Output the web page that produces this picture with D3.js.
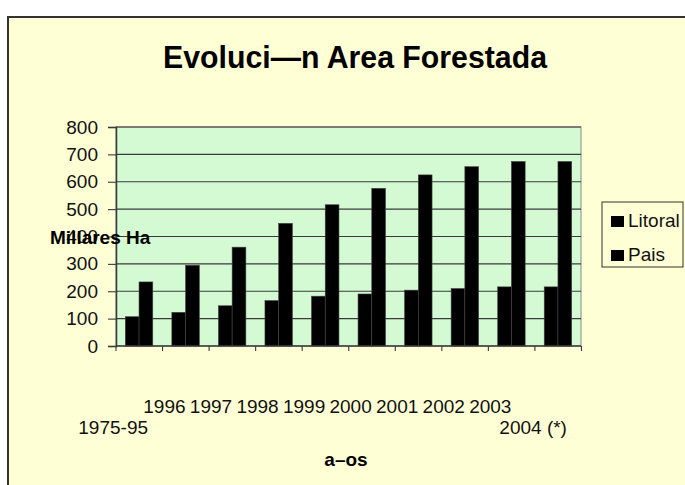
<!DOCTYPE html>
<html>
<head>
<meta charset="utf-8">
<script src="https://cdn.jsdelivr.net/npm/d3@7"></script>
<style>
  body { margin: 0; background: #fff; }
  svg { display: block; font-family: "Liberation Sans", Arial, sans-serif; }
</style>
</head>
<body>
<svg width="685" height="485"></svg>
<script>
// chart values
var categories = ["1975-95", "1996", "1997", "1998", "1999", "2000", "2001", "2002", "2003", "2004 (*)"];
var litoral = [107, 123, 147, 166, 182, 190, 204, 210, 216, 216];
var pais = [234, 295, 361, 448, 516, 576, 625, 655, 674, 674];
var seriesNames = ["Litoral", "Pais"];
var yTicks = [0, 100, 200, 300, 400, 500, 600, 700, 800];

var svg = d3.select("svg"),
    plot = {left: 116, right: 581, top: 127, bottom: 346},
    fontSize = 19;

// outer chart area with its frame
svg.append("rect")
    .attr("x", 8).attr("y", 17)
    .attr("width", 700).attr("height", 500)
    .attr("fill", "#FFFFD5")
    .attr("stroke", "#333")
    .attr("stroke-width", 2);

svg.append("text")
    .attr("x", 355).attr("y", 68)
    .attr("text-anchor", "middle")
    .attr("font-size", 32)
    .attr("font-weight", "bold")
    .attr("textLength", 384)
    .attr("lengthAdjust", "spacingAndGlyphs")
    .text("Evoluci\u2014n Area Forestada");

var x0 = d3.scaleBand()
    .domain(categories)
    .range([plot.left, plot.right])
    .paddingInner(0.41)
    .paddingOuter(0.2);

var x1 = d3.scaleBand()
    .domain(seriesNames)
    .range([0, x0.bandwidth()]);

var y = d3.scaleLinear()
    .domain([0, 800])
    .range([plot.bottom, plot.top]);

var step = x0.step();

// plot background
svg.append("rect")
    .attr("x", plot.left).attr("y", plot.top)
    .attr("width", plot.right - plot.left)
    .attr("height", plot.bottom - plot.top)
    .attr("fill", "#D4FAD4")
    .attr("stroke", "#999")
    .attr("stroke-width", 1.2);

// gridlines
svg.append("g")
    .selectAll("line")
    .data(yTicks.slice(1))
    .enter().append("line")
        .attr("x1", plot.left).attr("x2", plot.right)
        .attr("y1", function(d) { return y(d); })
        .attr("y2", function(d) { return y(d); })
        .attr("stroke", "#3a3a3a")
        .attr("stroke-width", 1.1);

// bars
var rows = categories.map(function(c, i) {
  return {cat: c, values: [{key: "Litoral", v: litoral[i]}, {key: "Pais", v: pais[i]}]};
});

svg.append("g")
    .selectAll("g")
    .data(rows)
    .enter().append("g")
        .attr("transform", function(d) { return "translate(" + x0(d.cat) + ",0)"; })
    .selectAll("rect")
    .data(function(d) { return d.values; })
    .enter().append("rect")
        .attr("x", function(d) { return x1(d.key); })
        .attr("y", function(d) { return y(d.v); })
        .attr("width", x1.bandwidth())
        .attr("height", function(d) { return y(0) - y(d.v); })
        .attr("fill", "#000")
        .attr("stroke", "#444")
        .attr("stroke-width", 0.6);

// y axis
var yAxis = svg.append("g")
    .attr("transform", "translate(" + plot.left + ",0)")
    .call(d3.axisLeft(y).tickValues(yTicks).tickSize(8).tickPadding(10));
yAxis.select(".domain").attr("stroke", "#3a3a3a").attr("stroke-width", 1.5);
yAxis.selectAll(".tick line").attr("stroke", "#3a3a3a").attr("stroke-width", 1.1);
yAxis.selectAll(".tick text")
    .attr("font-family", "\"Liberation Sans\", Arial, sans-serif")
    .attr("font-size", fontSize)
    .attr("fill", "#111");

// x axis line and category boundary ticks
svg.append("line")
    .attr("x1", plot.left).attr("x2", plot.right)
    .attr("y1", y(0)).attr("y2", y(0))
    .attr("stroke", "#3a3a3a")
    .attr("stroke-width", 1.3);

svg.append("g")
    .selectAll("line")
    .data(categories.concat([null]))
    .enter().append("line")
        .attr("x1", function(d, i) { return plot.left + i * step; })
        .attr("x2", function(d, i) { return plot.left + i * step; })
        .attr("y1", y(0)).attr("y2", y(0) + 5)
        .attr("stroke", "#3a3a3a")
        .attr("stroke-width", 1.1);

// x labels: short ones on the upper row, long ones dropped a row
svg.append("g")
    .selectAll("text")
    .data(categories)
    .enter().append("text")
        .attr("x", function(d) {
          var c = x0(d) + x0.bandwidth() / 2;
          return d.length > 4 ? c + 9 : c;
        })
        .attr("y", function(d) { return d.length > 4 ? 434 : 413; })
        .attr("text-anchor", "end")
        .attr("font-size", fontSize)
        .attr("fill", "#111")
        .text(function(d) { return d; });

// axis titles
svg.append("text")
    .attr("x", 50).attr("y", 244)
    .attr("font-size", 19)
    .attr("font-weight", "bold")
    .text("Millares Ha");

svg.append("text")
    .attr("x", 346).attr("y", 466)
    .attr("text-anchor", "middle")
    .attr("font-size", 19)
    .attr("font-weight", "bold")
    .text("a\u2013os");

// legend
var legend = svg.append("g");
legend.append("rect")
    .attr("x", 602).attr("y", 202)
    .attr("width", 81).attr("height", 65)
    .attr("fill", "#FFFFD5")
    .attr("stroke", "#333")
    .attr("stroke-width", 1);

var item = legend.selectAll("g")
    .data(seriesNames)
    .enter().append("g")
        .attr("transform", function(d, i) { return "translate(611," + (216 + i * 34) + ")"; });

item.append("rect")
    .attr("width", 13).attr("height", 11)
    .attr("fill", "#000");

item.append("text")
    .attr("x", 17).attr("y", 11)
    .attr("font-size", fontSize)
    .attr("fill", "#111")
    .text(function(d) { return d; });
</script>
</body>
</html>
